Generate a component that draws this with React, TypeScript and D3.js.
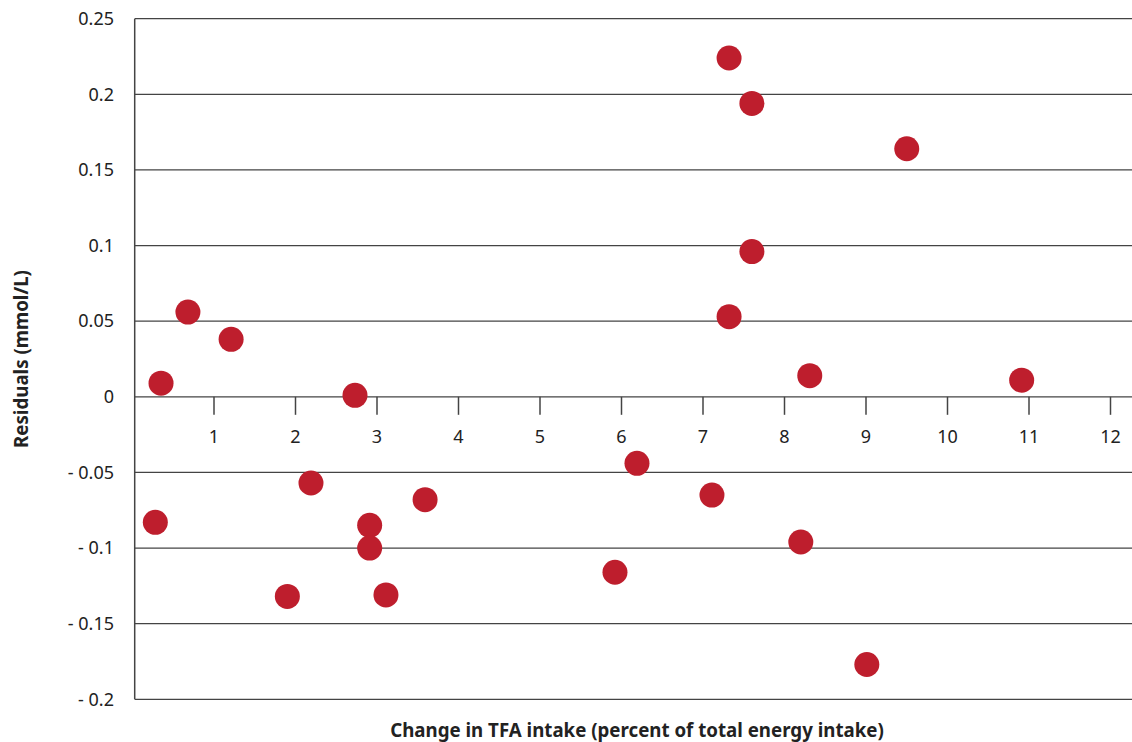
import React from "react";
import * as d3 from "d3";

const xValues = [0.28, 0.35, 0.68, 1.21, 1.9, 2.19, 2.73, 2.91, 2.91, 3.11, 3.59, 5.92, 6.19, 7.11, 7.32, 7.6, 7.6, 7.32, 8.2, 8.31, 9.01, 9.5, 10.91];
const yValues = [-0.083, 0.009, 0.056, 0.038, -0.132, -0.057, 0.001, -0.085, -0.1, -0.131, -0.068, -0.116, -0.044, -0.065, 0.224, 0.194, 0.096, 0.053, -0.096, 0.014, -0.177, 0.164, 0.011];
const xTicks = [1, 2, 3, 4, 5, 6, 7, 8, 9, 10, 11, 12];
const yTicks = [0.25, 0.2, 0.15, 0.1, 0.05, 0, -0.05, -0.1, -0.15, -0.2];

const W = 1132;
const H = 742;
const font = "'Noto Sans', sans-serif";

export default function App() {
  const x = d3.scaleLinear().domain([0, 12]).range([132.5, 1110.5]);
  const y = d3.scaleLinear().domain([-0.2, 0.25]).range([699.3, 18.7]);
  const left = 134.7;
  const right = W;
  const fmt = (v: number) => {
    if (v === 0) return "0";
    const s = String(Math.abs(v));
    return v < 0 ? "- " + s : s;
  };
  const lineColor = "#444";
  return (
    <div style={{ position: "absolute", left: 0, top: 0 }}>
      <svg width={W} height={H} style={{ display: "block", background: "#fff" }}>
        {yTicks.map((t) => (
          <line key={"g" + t} x1={left} x2={right} y1={y(t)} y2={y(t)} stroke={lineColor} strokeWidth={1.3} />
        ))}
        <line x1={left} x2={left} y1={y(0.25)} y2={y(-0.2)} stroke={lineColor} strokeWidth={1.5} />
        {xTicks.map((t) => (
          <g key={"x" + t}>
            <line x1={x(t)} x2={x(t)} y1={y(0)} y2={y(0) + 18} stroke={lineColor} strokeWidth={1.5} />
            <text x={x(t)} y={y(0) + 46} textAnchor="middle" fontFamily={font} fontSize={18} fill="#222">
              {t}
            </text>
          </g>
        ))}
        {yTicks.map((t) => (
          <text key={"yl" + t} x={114} y={y(t)} dy="0.35em" textAnchor="end" fontFamily={font} fontSize={18} fill="#222">
            {fmt(t)}
          </text>
        ))}
        {xValues.map((xv, i) => (
          <circle key={"p" + i} cx={x(xv)} cy={y(yValues[i])} r={12.5} fill="#BE1E2D" />
        ))}
        <text x={637} y={737} textAnchor="middle" fontFamily={font} fontSize={18.7} fontWeight="bold" fill="#222">
          Change in TFA intake (percent of total energy intake)
        </text>
        <text transform={`translate(28,359) rotate(-90)`} textAnchor="middle" fontFamily={font} fontSize={18.7} fontWeight="bold" fill="#222">
          Residuals (mmol/L)
        </text>
      </svg>
    </div>
  );
}
